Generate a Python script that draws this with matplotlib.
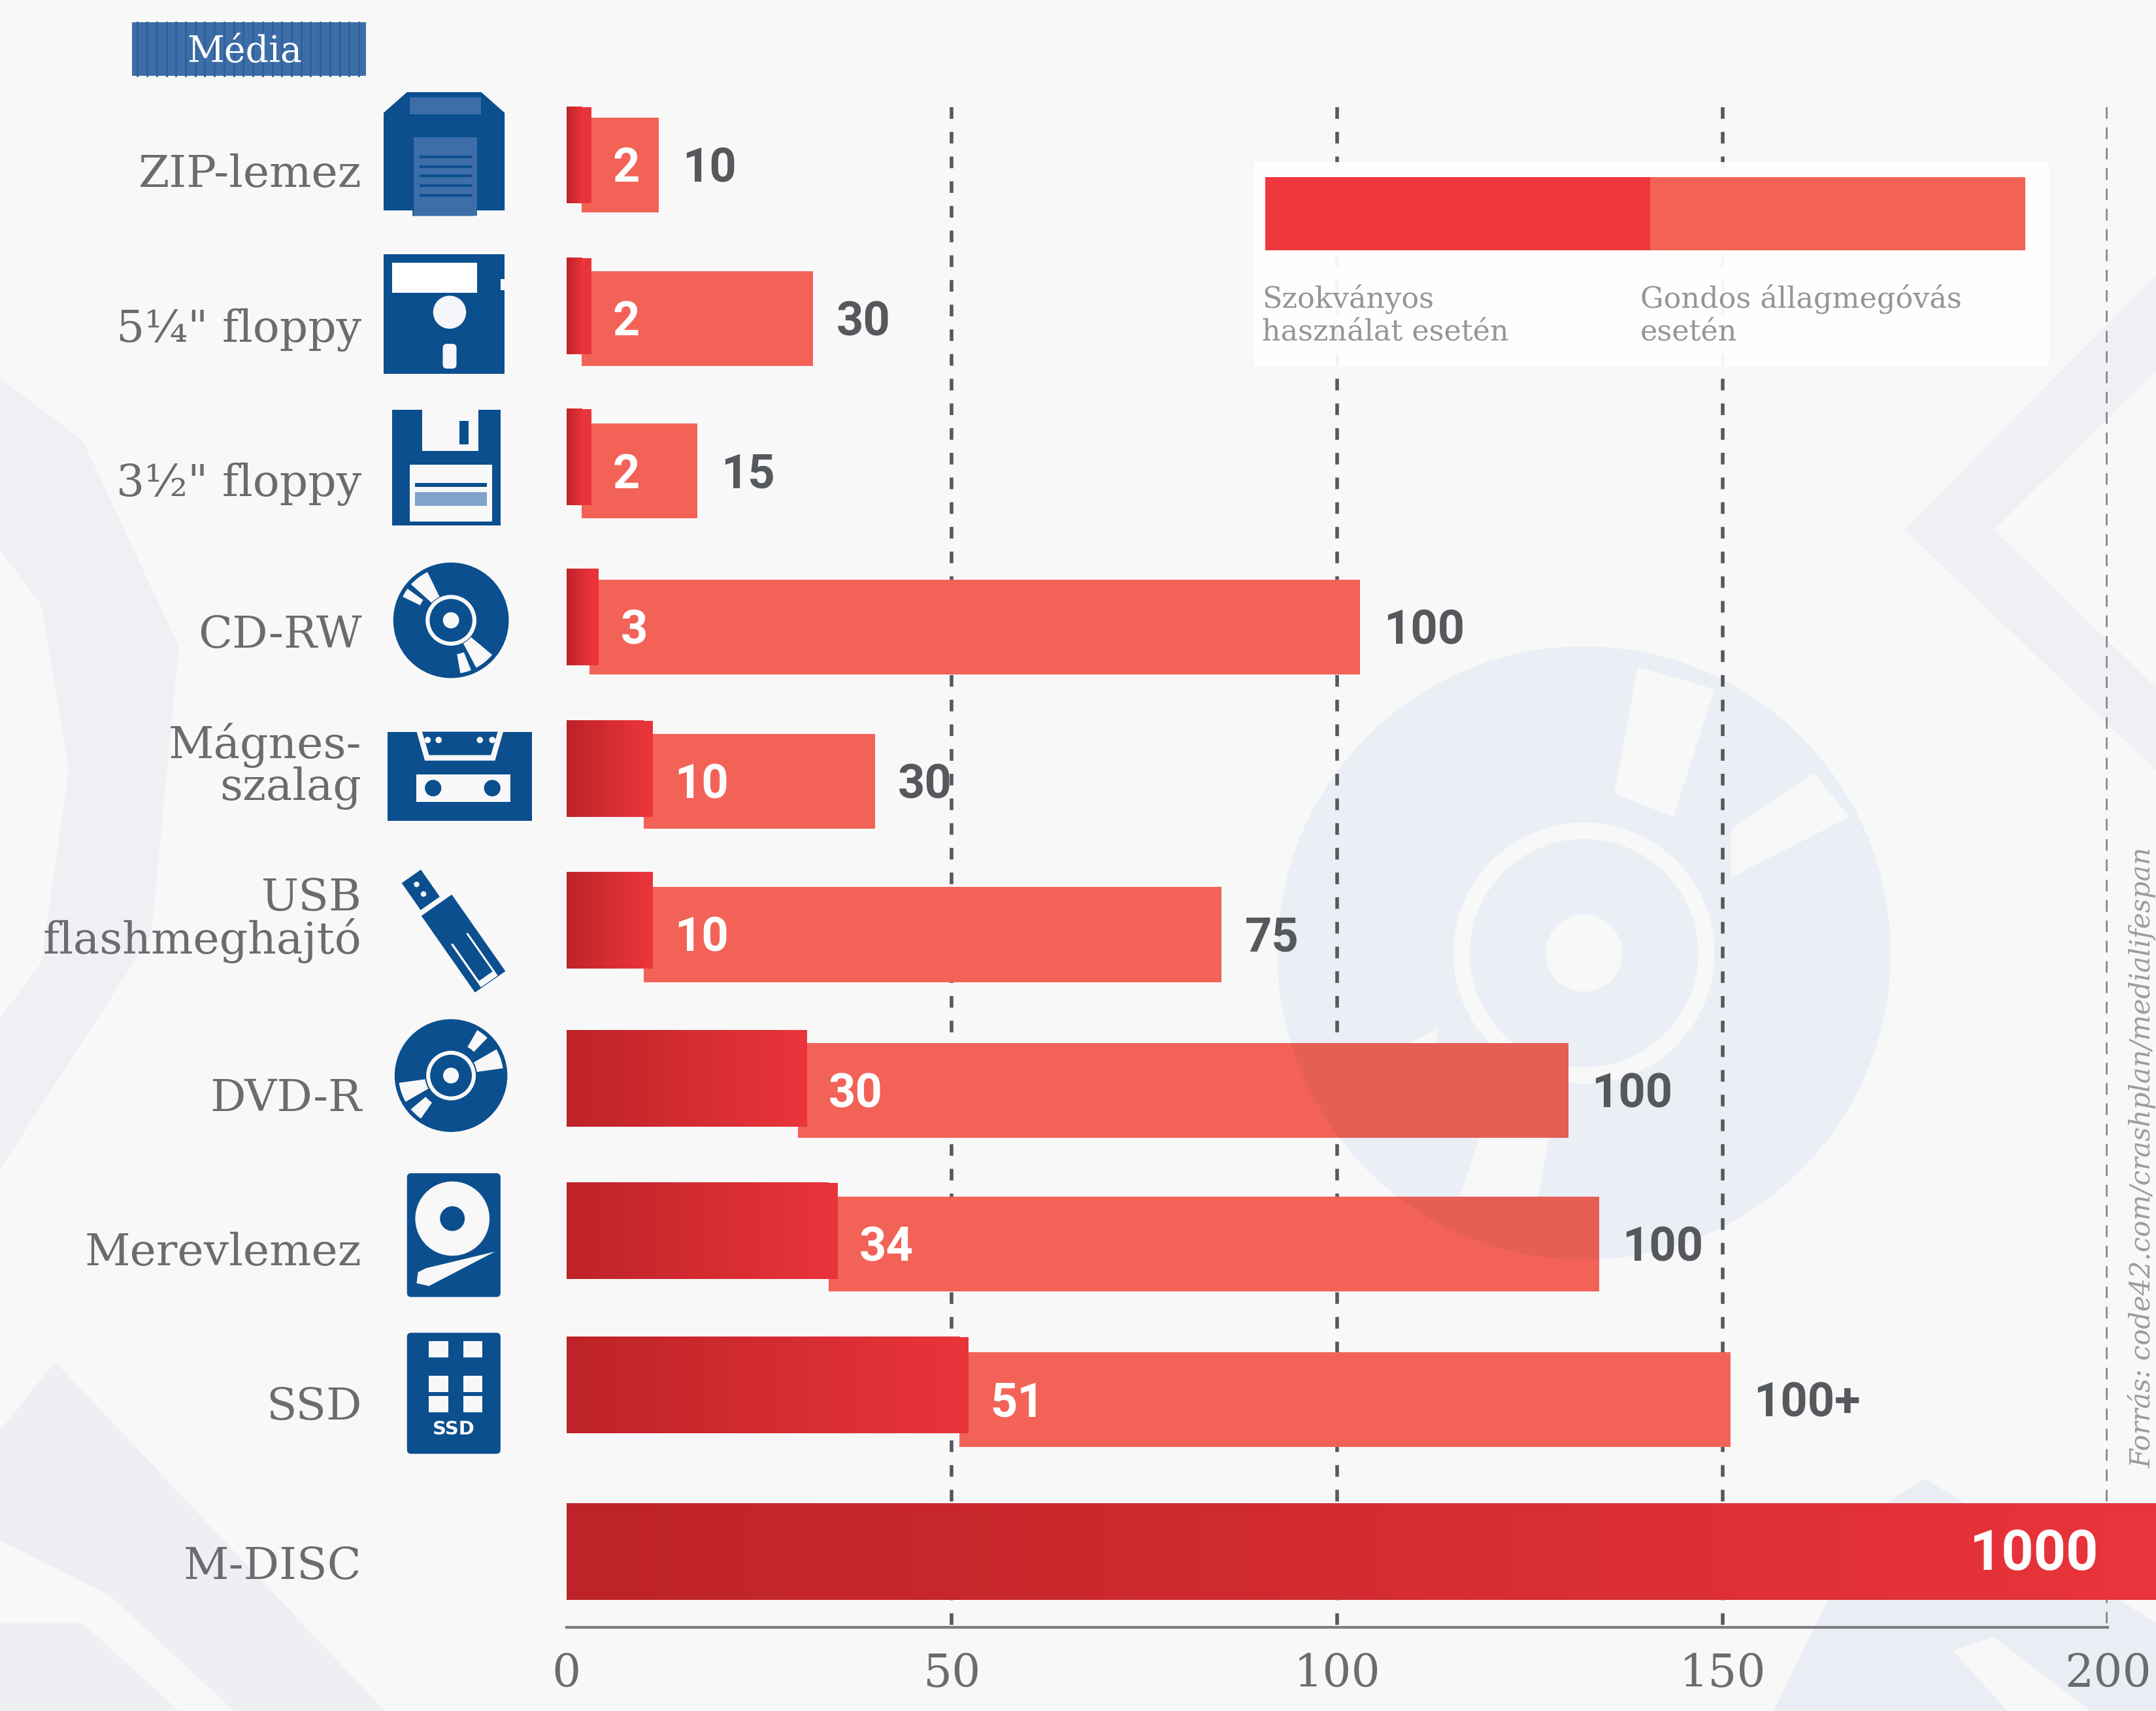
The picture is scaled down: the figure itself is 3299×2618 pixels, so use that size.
import numpy as np
import matplotlib
matplotlib.use('Agg')
import matplotlib.pyplot as plt
from matplotlib.colors import LinearSegmentedColormap
from matplotlib.patches import Circle, Ellipse, Polygon, Rectangle, FancyBboxPatch, Wedge

# adatok
media = ['ZIP-lemez', '5¼" floppy', '3½" floppy', 'CD-RW', 'Mágnes-\nszalag',
         'USB\nflashmeghajtó', 'DVD-R', 'Merevlemez', 'SSD', 'M-DISC']
standard = [2, 2, 2, 3, 10, 10, 30, 34, 51, 1000]
careful = [10, 30, 15, 100, 30, 75, 100, 100, 100]
careful_labels = ['10', '30', '15', '100', '30', '75', '100', '100', '100+']
ticks = [0, 50, 100, 150, 200]
legend_labels = ['Szokványos\nhasználat esetén', 'Gondos állagmegóvás\nesetén']
source = 'Forrás: code42.com/crashplan/medialifespan'

# elrendezés, 1568x1244-es rácson
W, H = 1568, 1244
X0, X1 = 412, 1533
Y_BASE, Y_TOP = 1183, 60
dark_y = [113, 222.5, 332.5, 448.5, 559, 669, 784, 895, 1007, 1128]
light_y = [120, 231.5, 342.5, 456, 568, 679.5, 793, 904.5, 1017.5]
label_y = [127, 240, 352, 462, 557, 669, 799, 911, 1023, 1139]
BAR_H = 69
OVERHANG = 1.2

BLUE = '#0B4F8F'
BLUE2 = '#3D6EA8'
PALE = '#ECEFF4'
BG = '#F8F8F8'
GREY = '#6A6C6F'
SLAB = ['DejaVu Serif']
NARROW = ['Liberation Sans Narrow', 'Roboto', 'DejaVu Sans']

fig = plt.figure(figsize=(32.99, 26.18), dpi=100, facecolor=BG)


def grid_axes(z):
    a = fig.add_axes([0, 0, 1, 1], zorder=z)
    a.set_xlim(0, W)
    a.set_ylim(H, 0)
    a.axis('off')
    return a


bg = grid_axes(0)
top = grid_axes(2)
ax = fig.add_axes([X0 / W, (H - Y_BASE) / H, (X1 - X0) / W, (Y_BASE - Y_TOP) / H], zorder=1)
ax.patch.set_alpha(0)


# halvány háttérformák
def pale_poly(pts, c=PALE):
    bg.add_patch(Polygon(pts, closed=True, fc=c, ec='none'))


bg.add_patch(Circle((1152, 693), 223, fc='#EAEEF5', ec='none'))
bg.add_patch(Circle((1152, 693), 95, fc=BG, ec='none'))
bg.add_patch(Circle((1152, 693), 83, fc='#EAEEF5', ec='none'))
bg.add_patch(Circle((1152, 693), 28, fc=BG, ec='none'))
slit1 = [(1191, 485), (1247, 501), (1217, 594), (1174, 577)]
slit2 = [(1319, 562), (1345, 594), (1259, 638), (1259, 603)]
for s in (slit1, slit2):
    pale_poly(s, BG)
    pale_poly([(2 * 1152 - px, 2 * 693 - py) for px, py in s], BG)

pale_poly([(0, 275), (60, 320), (130, 470), (110, 680), (0, 850)], '#EEF0F3')
pale_poly([(0, 400), (30, 440), (50, 560), (30, 700), (0, 740)], BG)
pale_poly([(0, 1040), (40, 990), (280, 1244), (170, 1244), (80, 1160), (0, 1120)], '#EDEFF3')
pale_poly([(0, 1180), (60, 1180), (130, 1244), (0, 1244)], '#EDEFF3')
pale_poly([(1568, 200), (1385, 385), (1568, 560), (1568, 500), (1450, 385), (1568, 270)], '#EEF0F3')
pale_poly([(1360, 1100), (1400, 1075), (1568, 1180), (1568, 1244), (1290, 1244)], '#EAEDF3')
pale_poly([(1420, 1200), (1450, 1190), (1520, 1244), (1460, 1244)], BG)

# Média fejléc
bg.add_patch(Rectangle((96, 16), 170, 39, fc=BLUE2, ec='none'))
for sx in np.arange(100, 266, 7):
    bg.plot([sx, sx], [16, 55], color='#2F5F9C', lw=2)
bg.add_patch(Rectangle((128, 20), 100, 31, fc=BLUE2, ec='none'))
bg.text(178, 38, 'Média', color='white', ha='center', va='center', fontsize=40, family=SLAB)

# sorcímkék
for lab, ly in zip(media, label_y):
    bg.text(263, ly, lab, ha='right', va='center', fontsize=49, family=SLAB, color=GREY,
            linespacing=0.95)


# ikonok
def rect(x0, y0, x1, y1, c=BLUE):
    bg.add_patch(Rectangle((x0, y0), x1 - x0, y1 - y0, fc=c, ec='none'))


def rrect(x0, y0, x1, y1, c=BLUE, pad=3):
    bg.add_patch(FancyBboxPatch((x0 + pad, y0 + pad), x1 - x0 - 2 * pad, y1 - y0 - 2 * pad,
                                boxstyle='round,pad=%d' % pad, fc=c, ec='none'))


def rot_rect(cx, cy, length, width, ang, c=BLUE):
    a = np.radians(ang)
    u = np.array([np.cos(a), np.sin(a)]) * length / 2
    v = np.array([-np.sin(a), np.cos(a)]) * width / 2
    c0 = np.array([cx, cy])
    bg.add_patch(Polygon([c0 - u - v, c0 + u - v, c0 + u + v, c0 - u + v], fc=c, ec='none'))


def disc(cx, cy, r, slots):
    bg.add_patch(Circle((cx, cy), r, fc=BLUE, ec='none'))
    for a0, a1, r0 in slots:
        bg.add_patch(Wedge((cx, cy), r * 0.93, a0, a1, width=r * 0.93 - r0, fc=BG, ec='none'))
    bg.add_patch(Circle((cx, cy), r * 0.44, fc=BG, ec='none'))
    bg.add_patch(Circle((cx, cy), r * 0.37, fc=BLUE, ec='none'))
    bg.add_patch(Circle((cx, cy), r * 0.14, fc=BG, ec='none'))


# ZIP
bg.add_patch(Polygon([(279, 82), (296, 67), (350, 67), (367, 82), (367, 153), (345, 153),
                      (345, 157), (300, 157), (300, 153), (279, 153)], fc=BLUE, ec='none'))
rect(298, 71, 350, 83, BLUE2)
rect(301, 100, 347, 157, BLUE2)
for ly in (114, 121, 128, 135, 142):
    bg.plot([306, 342], [ly, ly], color=BLUE, lw=3)
# 5,25"
rect(279, 185, 367, 272)
rect(285, 191, 347, 213, 'white')
bg.add_patch(Ellipse((327, 227), 24, 24, fc='#F4F6F9', ec='none'))
rrect(322, 250, 332, 268, '#F4F6F9')
rect(364, 203, 368, 211, BG)
# 3,5"
rect(285, 298, 364, 382)
rect(307, 298, 348, 328, BG)
rect(334, 306, 341, 323)
rect(298, 338, 358, 379, BG)
rect(302, 351, 354, 354)
rect(302, 358, 354, 368, '#7FA3C9')
# CD
disc(328, 451, 42, [(40, 62, 19), (68, 80, 25), (222, 244, 19), (206, 216, 25)])
# szalag
rect(282, 532, 387, 597)
bg.add_patch(Polygon([(303, 532), (366, 532), (360, 553), (309, 553)], fc=BG, ec='none'))
bg.add_patch(Polygon([(307, 532), (362, 532), (357, 549), (312, 549)], fc=BLUE, ec='none'))
for dx in (311, 319, 349, 358):
    bg.add_patch(Circle((dx, 538), 2.3, fc=BG, ec='none'))
rect(303, 563, 371, 583, BG)
for dx in (315, 358):
    bg.add_patch(Circle((dx, 573), 6, fc=BLUE, ec='none'))
# pendrive
rot_rect(306, 647, 24, 17, 55)
rot_rect(337, 686, 68, 27, 55)
rot_rect(345, 698, 38, 15, 55, BG)
rot_rect(343, 695, 36, 12, 55)
bg.add_patch(Circle((303, 643), 2, fc=BG, ec='none'))
bg.add_patch(Circle((308, 650), 2, fc=BG, ec='none'))
# DVD
disc(328, 782, 41, [(150, 172, 19), (125, 140, 24), (-30, -8, 19), (-60, -46, 24)])
# merevlemez
rrect(296, 853, 364, 943)
bg.add_patch(Ellipse((329, 886), 54, 54, fc=BG, ec='none'))
bg.add_patch(Circle((329, 886), 9, fc=BLUE, ec='none'))
bg.add_patch(Polygon([(310, 922), (360, 910), (312, 935), (303, 933), (304, 925)], fc=BG, ec='none'))
# SSD
rrect(296, 969, 364, 1057)
for sy in (975, 1000, 1015):
    for sx in (312, 337):
        rect(sx, sy, sx + 14, sy + 12, BG)
bg.text(330, 1039, 'SSD', color=BG, ha='center', va='center', fontsize=21, fontweight='bold')

# rács
for t in ticks[1:4]:
    ax.vlines(t, 78, Y_BASE, color='#55595E', lw=4, linestyles=[(0, (3.2, 3.6))], zorder=1)
ax.vlines(ticks[4], 78, Y_BASE, color='#85888C', lw=4, linestyles=[(0, (3.2, 2.4))], zorder=1)

# oszlopok
light_bars = ax.barh(light_y, careful, left=standard[:len(careful)], height=BAR_H,
                     color='#F36257', zorder=3)
ax.barh(dark_y, standard, height=BAR_H + 1, color='#E8343A', zorder=4, clip_on=False)

# a világos sáv rétegei alá kerülő toldás és a sötét sávok színátmenete
ramp = LinearSegmentedColormap.from_list('ramp', ['#BD2328', '#E8343A'])
grad = np.linspace(0, 1, 256)[None, :]
for v, y in zip(standard, dark_y):
    ax.imshow(grad, extent=[0, min(v, ticks[-1]), y + (BAR_H + 1) / 2, y - (BAR_H + 1) / 2],
              aspect='auto', cmap=ramp, zorder=5)
ax.barh(dark_y[:-1], [OVERHANG] * len(careful), left=standard[:-1], height=BAR_H + 1,
        color='#E8343A', zorder=4)

# értékfeliratok
for v, y in zip(standard[:-1], light_y):
    ax.text(v + 4, y + 3, str(v), color='white', fontsize=52, fontweight='bold', ha='left',
            va='center', family=NARROW, zorder=6)
for v, c, s, y in zip(standard, careful, careful_labels, light_y):
    ax.text(v + c + 3, y + 3, s, color='#55585C', fontsize=52, fontweight='bold', ha='left',
            va='center', family=NARROW, zorder=6)
ax.text(198.8, dark_y[-1] + 2, str(standard[-1]), color='white', fontsize=62, fontweight='bold',
        ha='right', va='center', family=NARROW, zorder=6)

# tengely
ax.set_xlim(0, ticks[-1])
ax.set_ylim(Y_BASE, Y_TOP)
ax.set_xticks(ticks)
ax.set_xticklabels([str(t) for t in ticks], fontsize=50, color=GREY, family=SLAB)
ax.set_yticks([])
ax.tick_params(axis='x', length=0, pad=28)
for side in ('top', 'left', 'right'):
    ax.spines[side].set_visible(False)
ax.spines['bottom'].set_color('#7A7C80')
ax.spines['bottom'].set_linewidth(3)

# a lemez árnyéka átüt a világos sávokon
for idx in (6, 7):
    shade = Circle((1152, 693), 223, fc='#444444', alpha=0.07, ec='none', transform=top.transData)
    top.add_patch(shade)
    shade.set_clip_path(light_bars[idx])

# jelmagyarázat
top.add_patch(Rectangle((912, 118), 578, 148, fc='white', ec='none', alpha=0.95))
top.add_patch(Rectangle((920, 129), 280, 53, fc='#EE383D', ec='none'))
top.add_patch(Rectangle((1200, 129), 273, 53, fc='#F26355', ec='none'))
top.text(918, 229, legend_labels[0], fontsize=32, color='#939598', va='center', family=SLAB,
         linespacing=1.2)
top.text(1193, 229, legend_labels[1], fontsize=32, color='#939598', va='center', family=SLAB,
         linespacing=1.2)

# forrás
top.text(1558, 1067, source, rotation=90, ha='center', va='bottom', fontsize=30, color='#9A9C9F',
         style='italic', family=SLAB)

fig.savefig('out.png', dpi=100, facecolor=BG)
